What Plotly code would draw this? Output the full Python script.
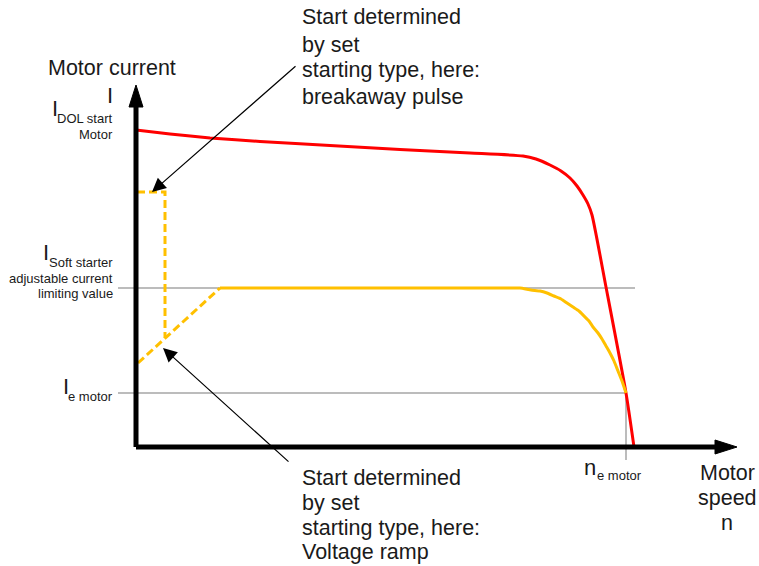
import plotly.graph_objects as go

# ---- data (speed units / current units, origin at axes corner) ----
speed_dol = [0, 34, 74, 124, 194, 264, 334, 387, 400, 414, 425, 434, 441, 447, 452, 456, 470, 490, 498]
current_dol = [317, 313, 309, 305.5, 301.5, 297.5, 294, 291, 288, 282, 276, 269, 261, 252, 243, 232, 160, 54, 0]

speed_soft = [84, 374, 384, 395, 404, 411, 418, 425, 431, 437, 443, 448, 453, 457, 462, 466, 470, 474, 478, 482, 486, 490]
current_soft = [159, 159, 159, 157, 156, 154, 151, 148, 144, 140, 136, 131, 126, 120, 114, 108, 101, 94, 86, 76, 66, 54]

speed_pulse = [1, 29, 29]
current_pulse = [255, 255, 109]

speed_ramp = [2, 84]
current_ramp = [84, 159]

I_limit = 159
I_e = 54
n_e = 490
n_max = 601
I_max = 362

note_top = ["Start determined", "by set", "starting type, here:", "breakaway pulse"]
note_bottom = ["Start determined", "by set", "starting type, here:", "Voltage ramp"]
speed_label = ["Motor", "speed", "n"]

FONT = "Liberation Sans, Arial, sans-serif"
TXT = "#1a1a1a"
RED = "#FF0000"
YEL = "#FFC000"
GRAY = "#A6A6A6"

fig = go.Figure()

# reference lines
fig.add_trace(go.Scatter(x=[-18, 499], y=[I_limit, I_limit], mode="lines",
                         line=dict(color=GRAY, width=1.5), hoverinfo="skip"))
fig.add_trace(go.Scatter(x=[-18, n_e], y=[I_e, I_e], mode="lines",
                         line=dict(color=GRAY, width=1.5), hoverinfo="skip"))
fig.add_trace(go.Scatter(x=[n_e, n_e], y=[I_e, -13], mode="lines",
                         line=dict(color=GRAY, width=1.5), hoverinfo="skip"))

# curves
fig.add_trace(go.Scatter(x=speed_dol, y=current_dol, mode="lines",
                         line=dict(color=RED, width=3, shape="spline", smoothing=0.6)))
fig.add_trace(go.Scatter(x=speed_soft, y=current_soft, mode="lines",
                         line=dict(color=YEL, width=3, shape="spline", smoothing=0.5)))
fig.add_trace(go.Scatter(x=speed_pulse, y=current_pulse, mode="lines",
                         line=dict(color=YEL, width=3, dash="8px,4px")))
fig.add_trace(go.Scatter(x=speed_ramp, y=current_ramp, mode="lines",
                         line=dict(color=YEL, width=3, dash="8px,4px")))

# axes with arrow heads
shapes = [
    dict(type="line", x0=0, y0=0, x1=0, y1=I_max - 20, line=dict(color="black", width=5)),
    dict(type="line", x0=0, y0=0, x1=n_max - 20, y1=0, line=dict(color="black", width=5)),
    dict(type="path", path=f"M -7 {I_max-22} L 0 {I_max} L 7 {I_max-22} Z",
         fillcolor="black", line=dict(color="black", width=1)),
    dict(type="path", path=f"M {n_max-22} -7 L {n_max} 0 L {n_max-22} 7 Z",
         fillcolor="black", line=dict(color="black", width=1)),
]

ann = []
def t(x, y, s, size, xa="center", ya="middle", align="center"):
    ann.append(dict(x=x, y=y, xref="x", yref="y", text=s, showarrow=False,
                    font=dict(family=FONT, size=size, color=TXT),
                    xanchor=xa, yanchor=ya, align=align, borderpad=0, borderwidth=0))

t(-24, 379, "Motor current", 21.5)
t(-26, 352, "I", 22)
t(-81, 339, "I", 22)
t(-23, 329, "DOL start", 13, xa="right")
t(-23, 313, "Motor", 13, xa="right")
t(-90, 195, "I", 22)
t(-23, 185, "Soft starter", 13, xa="right")
t(-23, 169, "adjustable current", 13, xa="right")
t(-23, 154, "limiting value", 13, xa="right")
t(-70, 61, "I", 22)
t(-23, 51, "e motor", 13, xa="right")
t(454, -20, "n", 22)
t(461, -28, "e motor", 13, xa="left")
for s, yy in zip(speed_label, [-26, -51, -76]):
    t(591, yy, s, 21.5)
for s, yy in zip(note_top, [430, 402, 377, 350]):
    t(166, yy, s, 21.5, xa="left", align="left")
for s, yy in zip(note_bottom, [-31, -56, -81, -105]):
    t(166, yy, s, 21.5, xa="left", align="left")

# pointer arrows
for (hx, hy, tx, ty) in [(16, 255, 161, 382), (27, 99, 154, -16)]:
    ann.append(dict(x=hx, y=hy, ax=tx, ay=ty, xref="x", yref="y", axref="x", ayref="y",
                    text="", showarrow=True, arrowhead=2, arrowsize=2.3,
                    arrowwidth=1.2, arrowcolor="black"))

fig.update_layout(
    width=759, height=566,
    margin=dict(l=0, r=0, t=0, b=0),
    paper_bgcolor="white", plot_bgcolor="white",
    showlegend=False,
    xaxis=dict(range=[-136, 623], visible=False, fixedrange=True),
    yaxis=dict(range=[-119, 447], visible=False, fixedrange=True),
    shapes=shapes, annotations=ann,
)

fig.write_html(
    "out.html",
    config={"displayModeBar": False, "staticPlot": True},
    post_script="document.body.style.margin='0';document.body.style.overflow='hidden';",
)
